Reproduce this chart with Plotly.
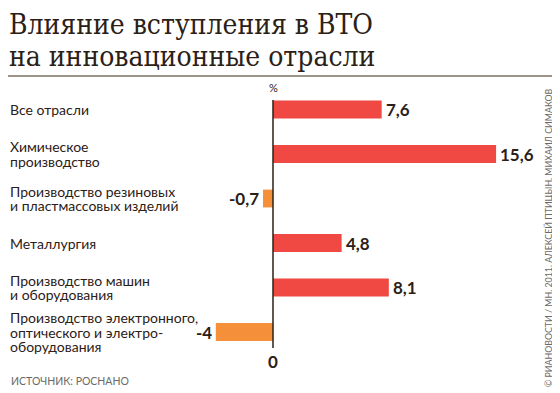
import plotly.graph_objects as go

# ---- data ----
categories = [
    "Все отрасли",
    "Химическое<br>производство",
    "Производство резиновых<br>и пластмассовых изделий",
    "Металлургия",
    "Производство машин<br>и оборудования",
    "Производство электронного,<br>оптического и электро-<br>оборудования",
]
values = [7.6, 15.6, -0.7, 4.8, 8.1, -4]
title_lines = ["Влияние вступления в ВТО", "на инновационные отрасли"]
unit_label = "%"
zero_label = "0"
source_text = "ИСТОЧНИК: РОСНАНО"
credit_text = "© РИАНОВОСТИ / МН. 2011. АЛЕКСЕЙ ПТИЦЫН, МИХАИЛ СИМАКОВ"

# ---- style / layout constants ----
OFF = 8                      # page body margin of the html page
W, H = 560 - OFF, 393 - OFF  # figure size so it fits the window
RED = "#f04842"
ORANGE = "#f68f3a"
DARK = "#2b2016"
GREY = "#6a6a6a"
SANS = "Lato"
SERIF = "DejaVu Serif Condensed, DejaVu Serif"


def fx(sx):  # screen x -> paper x
    return (sx - OFF) / W


def fy(sy):  # screen y -> paper y
    return 1 - (sy - OFF) / H


px_per_unit = 14.3
zero_px = 273 - OFF
xr = [-zero_px / px_per_unit, (W - zero_px) / px_per_unit]

row_px = 44.5
first_px = 109.5 - OFF
y_top = -first_px / row_px
y_bot = y_top + H / row_px


def dy(sy):  # screen y -> data y
    return (sy - OFF - first_px) / row_px


idx = list(range(len(categories)))
colors = [RED if v >= 0 else ORANGE for v in values]

fig = go.Figure()
fig.add_trace(go.Bar(
    x=values, y=idx, orientation="h",
    marker=dict(color=colors, line=dict(width=0)),
    width=0.4, hoverinfo="skip",
))

annotations = []
# category labels (one annotation per line for exact spacing)
line_gap = 14.5
for i, cat in enumerate(categories):
    parts = cat.split("<br>")
    n = len(parts)
    for k, p in enumerate(parts):
        annotations.append(dict(
            x=fx(8), xref="paper", y=i, yref="y",
            text=p, showarrow=False, xanchor="left", yanchor="middle",
            yshift=-(k - (n - 1) / 2) * line_gap,
            font=dict(family=SANS, size=14, color=DARK),
        ))
# value labels
for i, v in enumerate(values):
    txt = ("%g" % v).replace(".", ",")
    annotations.append(dict(
        x=v, xref="x", y=i, yref="y", text="<b>%s</b>" % txt,
        showarrow=False, xanchor="left" if v >= 0 else "right",
        xshift=2 if v >= 0 else -2, yanchor="middle",
        font=dict(family=SANS, size=17, color=DARK),
    ))
# unit and zero labels
annotations.append(dict(x=0, xref="x", y=dy(87), yref="y",
                        text=unit_label, showarrow=False,
                        font=dict(family=SANS, size=11, color=DARK)))
annotations.append(dict(x=0, xref="x", y=dy(361), yref="y",
                        text="<b>%s</b>" % zero_label, showarrow=False,
                        font=dict(family=SANS, size=17, color=DARK)))
# title
for k, t in enumerate(title_lines):
    annotations.append(dict(x=fx(7), xref="paper", y=fy(24 + 32 * k),
                            yref="paper", text=t, showarrow=False,
                            xanchor="left", yanchor="middle",
                            font=dict(family=SERIF, size=28, color=DARK)))
# source
annotations.append(dict(x=fx(9), xref="paper", y=fy(381), yref="paper",
                        text=source_text, showarrow=False, xanchor="left",
                        yanchor="middle",
                        font=dict(family=SANS, size=10.5, color=GREY)))
# credit (vertical)
annotations.append(dict(x=fx(548), xref="paper", y=fy(238), yref="paper",
                        text=credit_text, showarrow=False, textangle=-90,
                        xanchor="center", yanchor="middle",
                        font=dict(family=SANS, size=8.8, color=GREY)))

shapes = [
    dict(type="line", xref="x", yref="y", x0=0, x1=0,
         y0=dy(100), y1=dy(348),
         line=dict(color=DARK, width=1.5)),
    dict(type="line", xref="paper", yref="paper", x0=0, x1=1,
         y0=fy(76), y1=fy(76),
         line=dict(color="#7b6f63", width=1.5)),
]

fig.update_layout(
    width=W, height=H, margin=dict(l=0, r=0, t=0, b=0),
    paper_bgcolor="white", plot_bgcolor="white",
    showlegend=False,
    xaxis=dict(range=xr, visible=False, fixedrange=True),
    yaxis=dict(range=[y_bot, y_top], visible=False, fixedrange=True),
    annotations=annotations, shapes=shapes,
)

fig.write_html("out.html", config={"displayModeBar": False})
